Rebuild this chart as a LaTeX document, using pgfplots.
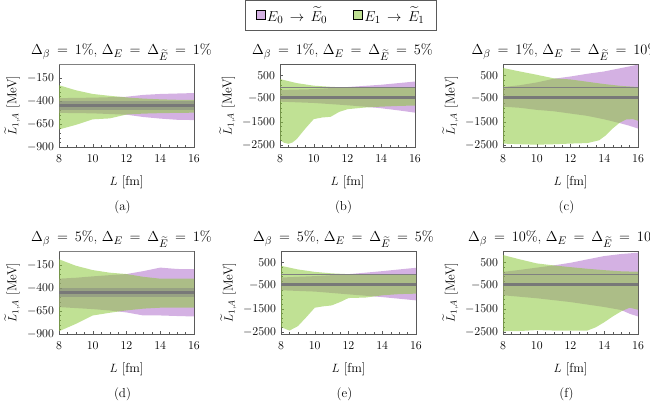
\documentclass[border=0pt]{standalone}
\usepackage{amsmath,amssymb}
\usepackage{pgfplots}
\pgfplotsset{compat=1.18}

\definecolor{purp}{RGB}{170,100,200}
\definecolor{grn}{RGB}{140,200,60}
\definecolor{frame}{RGB}{90,90,90}

\pgfplotsset{
  panel/.style={
    scale only axis, width=135pt, height=83pt,
    anchor=south west, clip mode=individual,
    xmin=8, xmax=16, xtick={8,10,...,16}, minor x tick num=3,
    minor y tick num=4,
    tick align=inside, xtick pos=bottom, ytick pos=left,
    major tick length=3pt, minor tick length=1.6pt,
    axis line style={frame}, tick style={frame},
    tick label style={font=\fontsize{11.5}{12}\selectfont},
    yticklabel style={xshift=-1.5pt},
    xticklabel style={yshift=-4pt},
    /pgf/number format/1000 sep={},
    label style={font=\fontsize{13}{14}\selectfont},
    title style={font=\fontsize{15}{16}\selectfont, yshift=-6pt, xshift=-5pt},
    xlabel={$L$ [fm]},
    ylabel={$\widetilde{L}_{1,A}$ [MeV]},
    xlabel style={yshift=-7pt},
  },
  small/.style={ymin=-900, ymax=0, ytick={-900,-650,-400,-150}},
  big/.style={ymin=-2600, ymax=1000, ytick={-2500,-1500,-500,500}},
  pband/.style={fill=purp, fill opacity=0.5, draw=none},
  gband/.style={fill=grn, fill opacity=0.55, draw=none},
  cband/.style={fill=gray, fill opacity=0.45, draw=none},
  cline/.style={draw={rgb,255:red,120;green,120;blue,120}, line width=2.6pt},
  zline/.style={draw=gray, line width=0.5pt},
}

\newcommand{\central}{%
  \addplot[cband] coordinates {(8,-405) (16,-405) (16,-495) (8,-495)} -- cycle;
  \addplot[cline] coordinates {(8,-450) (16,-450)};
  \addplot[zline] coordinates {(8,0) (16,0)};
}
\newcommand{\sub}[1]{\node[font=\fontsize{13}{14}\selectfont] at (rel axis cs:0.5,0) [yshift=-60pt, xshift=-4pt] {(#1)};}
\newcommand{\ttl}[2]{$\thickmuskip=8.5mu\relax \Delta_\beta = #1\%$, $\thickmuskip=8.5mu\relax \Delta_E = \Delta_{\widetilde{E}} = #2\%$}
\protected\def\legA{$\thickmuskip=8mu\relax E_0 \to \widetilde{E}_0$\makebox[24pt]{}}
\protected\def\legB{$\thickmuskip=8mu\relax E_1 \to \widetilde{E}_1$}

\begin{document}
\begin{tikzpicture}
\useasboundingbox (0,0) rectangle (650pt,402pt);

% (a)
\begin{axis}[panel, small, at={(59pt,255pt)}, title={\ttl{1}{1}}]
\addplot[pband] coordinates {
  (8,-370) (10,-365) (12,-355) (13,-335) (14,-325) (15,-320) (16,-315)
  (16,-608) (15,-605) (14,-592) (13,-575) (12,-550) (10,-535) (8,-530)} -- cycle;
\addplot[gband] coordinates {
  (8,-230) (9,-285) (10,-325) (11,-345) (12,-362) (13,-375) (14,-383) (15,-388) (16,-390)
  (16,-528) (15,-530) (14,-533) (13,-538) (12,-548) (11,-590) (10,-600) (9,-660) (8,-710)} -- cycle;
\central
\sub{a}
\end{axis}

% (b)
\begin{axis}[panel, big, at={(280pt,255pt)}, title={\ttl{1}{5}},
  legend columns=2,
  legend style={at={(0.5,1)}, anchor=south, yshift=34pt, xshift=-6.5pt,
    draw=frame, font=\fontsize{15}{16}\selectfont,
    inner xsep=10pt, inner ysep=5pt},
  legend image code/.code={\fill[#1] (0pt,-4pt) rectangle (9pt,5pt);}]
\addlegendimage{fill=purp, fill opacity=0.5}
\addlegendentry{\legA}
\addlegendimage{fill=grn, fill opacity=0.55}
\addlegendentry{\legB}
\addplot[pband] coordinates {
  (8,-127) (10,-90) (12,0) (13,50) (14,100) (15,170) (16,240)
  (16,-1110) (15,-1010) (14,-920) (13,-850) (12,-790) (10,-690) (8,-634)} -- cycle;
\addplot[gband] coordinates {
  (8,344) (9,170) (10,60) (11,10) (12,-20) (13,-30) (14,-35) (15,-35) (16,-40)
  (16,-800) (15,-820) (14,-850) (13,-890) (12,-960) (11.5,-1080) (11,-1290) (10.5,-1320)
  (10,-1390) (9.5,-1800) (9,-2250) (8.75,-2400) (8.5,-2460) (8.25,-2420) (8,-2300)} -- cycle;
\central
\sub{b}
\end{axis}

% (c)
\begin{axis}[panel, big, at={(503pt,255pt)}, title={\ttl{1}{10}}]
\addplot[pband] coordinates {
  (8,0) (9,80) (10,200) (11,360) (12,458) (13,576) (14,677) (15,825) (16,970)
  (16,-1800) (15.5,-1680) (15,-1580) (14,-1400) (13,-1250) (12,-1150) (11,-1050) (10,-990) (9,-900) (8,-850)} -- cycle;
\addplot[gband] coordinates {
  (8,825) (9,677) (10,532) (11,380) (12,330) (13,230) (14,130) (15,50) (16,0)
  (16,-1463) (15.7,-1390) (15.3,-1405) (14.9,-1552) (14.5,-1797) (14.1,-2090) (13.7,-2308)
  (13,-2430) (12,-2452) (11,-2480) (10,-2500) (9,-2480) (8,-2452)} -- cycle;
\central
\sub{c}
\end{axis}

% (d)
\begin{axis}[panel, small, at={(59pt,68pt)}, title={\ttl{5}{1}}]
\addplot[pband] coordinates {
  (8,-300) (9,-290) (10,-275) (11,-262) (12,-250) (13,-218) (14,-180) (15,-195) (16,-197)
  (16,-710) (15,-705) (14,-699) (13,-699) (12,-666) (11,-645) (10,-630) (8,-608)} -- cycle;
\addplot[gband] coordinates {
  (8,-90) (9,-160) (10,-207) (11,-235) (12,-250) (13,-280) (14,-300) (15,-300) (16,-300)
  (16,-615) (15,-615) (14,-615) (13,-625) (12,-644) (11,-670) (10,-699) (9,-790) (8,-870)} -- cycle;
\central
\sub{d}
\end{axis}

% (e)
\begin{axis}[panel, big, at={(281pt,68pt)}, title={\ttl{5}{5}}]
\addplot[pband] coordinates {
  (8,-150) (10,-90) (12,-5) (13,60) (14,126) (15,200) (16,272)
  (16,-1141) (15,-1070) (14,-1000) (13,-940) (12,-880) (10,-760) (8,-704)} -- cycle;
\addplot[gband] coordinates {
  (8,358) (9,200) (10,95) (11,30) (12,-5) (13,-20) (14,-30) (15,-40) (16,-50)
  (16,-850) (15,-870) (14,-923) (13,-1020) (12,-1040) (11.5,-1215) (11,-1360) (10.5,-1400)
  (10,-1461) (9.5,-1870) (9,-2260) (8.5,-2452) (8,-2300)} -- cycle;
\central
\sub{e}
\end{axis}

% (f)
\begin{axis}[panel, big, at={(503pt,68pt)}, title={\ttl{10}{10}}]
\addplot[pband] coordinates {
  (8,95) (9,180) (10,280) (11,375) (12,490) (13,637) (14,781) (15,869) (16,926)
  (16,-1840) (15.5,-1720) (15,-1560) (14,-1430) (12,-1215) (10,-1050) (8,-920)} -- cycle;
\addplot[gband] coordinates {
  (8,825) (9,637) (10,462) (11,375) (12,300) (13,230) (14,170) (15,120) (16,100)
  (16,-1548) (15.5,-1460) (15,-1620) (14.5,-1840) (14,-2090) (13.5,-2308) (13,-2450)
  (12,-2450) (11,-2450) (10,-2430) (9,-2470) (8,-2483)} -- cycle;
\central
\sub{f}
\end{axis}
\end{tikzpicture}
\end{document}
